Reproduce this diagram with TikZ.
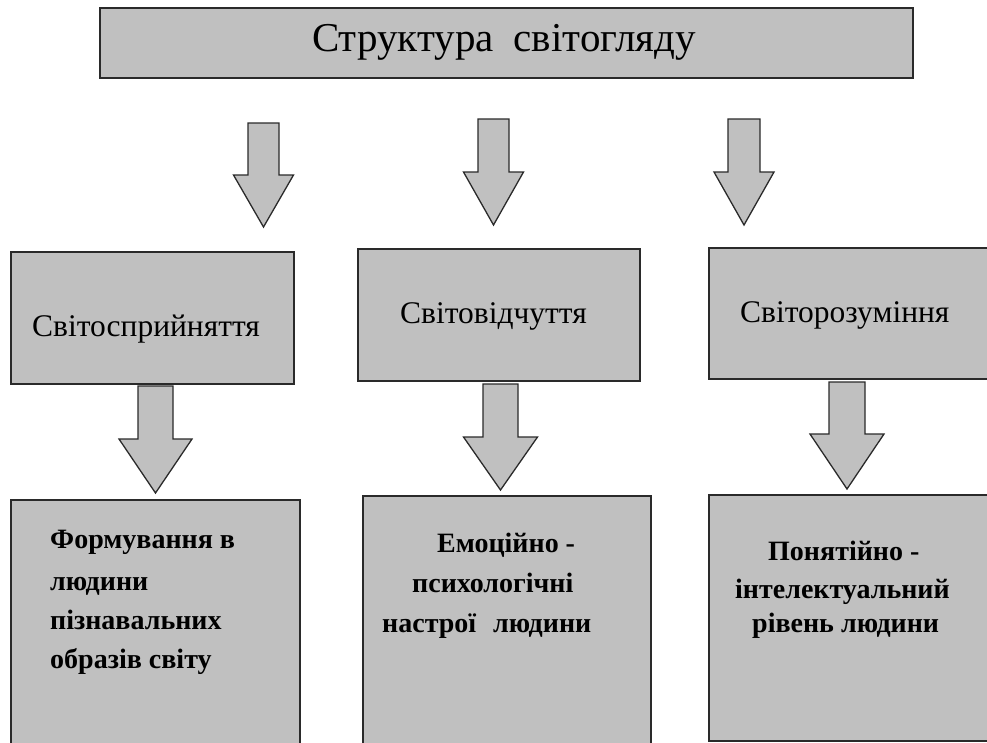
\documentclass[tikz,border=0pt]{standalone}
\usepackage{fontspec}
\setmainfont{Liberation Serif}
\definecolor{boxfill}{HTML}{C0C0C0}
\definecolor{boxline}{HTML}{2A2A2A}
\tikzset{
  boxstyle/.style={draw=boxline, fill=boxfill, line width=1.5pt, inner sep=0pt, anchor=north west},
  titlebox/.style={boxstyle, line width=2.2pt},
  arrowstyle/.style={draw=boxline, fill=boxfill, line width=1.3pt, line join=miter},
  txt/.style={anchor=base west, inner sep=0pt, text=black},
  toptext/.style={txt, anchor=base, font=\rmfamily\fontsize{41}{46}\selectfont},
  midtext/.style={txt, font=\rmfamily\fontsize{31.5}{36}\selectfont},
  bottext/.style={txt, font=\rmfamily\bfseries\fontsize{28}{32}\selectfont},
}
% block arrow: centre x, top y, shoulder y, tip y, half shaft, half head
\newcommand\blockarrow[6]{%
  \draw[arrowstyle] (#1-#5,#2) -- (#1+#5,#2) -- (#1+#5,#3) -- (#1+#6,#3)
    -- (#1,#4) -- (#1-#6,#3) -- (#1-#5,#3) -- cycle;}
\begin{document}
\begin{tikzpicture}[x=1pt,y=-1pt]
\useasboundingbox (0,0) rectangle (987,742);
\clip (0,0) rectangle (987,742);
% boxes
\node[titlebox, minimum width=813pt, minimum height=70pt] (title) at (99,7) {};
\node[boxstyle, minimum width=283pt, minimum height=132pt] (a1) at (10,251) {};
\node[boxstyle, minimum width=282pt, minimum height=132pt] (b1) at (357,248) {};
\node[boxstyle, minimum width=290pt, minimum height=131pt] (c1) at (708,247) {};
\node[boxstyle, minimum width=289pt, minimum height=250pt] (a2) at (10,499) {};
\node[boxstyle, minimum width=288pt, minimum height=254pt] (b2) at (362,495) {};
\node[boxstyle, minimum width=290pt, minimum height=246pt] (c2) at (708,494) {};
% arrows row 1
\blockarrow{263.5}{123}{175}{227}{15.5}{30}
\blockarrow{493.5}{119}{172}{225}{15.5}{30}
\blockarrow{744}{119}{172}{225}{16}{30}
% arrows row 2
\blockarrow{155.5}{386}{439}{493}{17.5}{36.5}
\blockarrow{500.5}{384}{437}{490}{17.5}{37}
\blockarrow{847}{382}{434}{489}{18}{37}
% texts
\node[toptext] (ttitle) at (504,51) {Структура\hspace{20pt}світогляду};
\node[midtext] (ta1) at (32,336) {Світосприйняття};
\node[midtext] (tb1) at (400,323) {Світовідчуття};
\node[midtext] (tc1) at (740,322) {Світорозуміння};
\node[bottext] (ta2l1) at (50,548) {Формування в};
\node[bottext] (ta2l2) at (50,590) {людини};
\node[bottext] (ta2l3) at (50,629) {пізнавальних};
\node[bottext] (ta2l4) at (50,668) {образів світу};
\node[bottext] (tb2l1) at (437,552) {Емоційно -};
\node[bottext] (tb2l2) at (412,592) {психологічні};
\node[bottext] (tb2l3) at (382,632) {настрої\hspace{17pt}людини};
\node[bottext] (tc2l1) at (768,560) {Понятійно -};
\node[bottext] (tc2l2) at (735,598) {інтелектуальний};
\node[bottext] (tc2l3) at (752,632) {рівень людини};
\end{tikzpicture}
\end{document}
